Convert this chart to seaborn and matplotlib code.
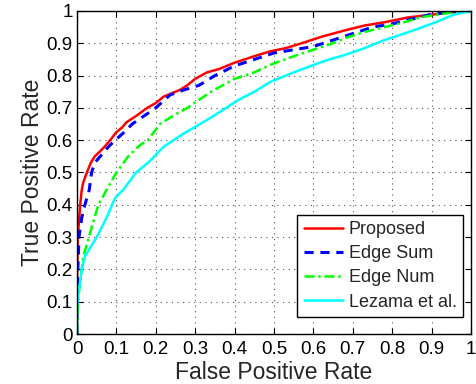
import matplotlib
matplotlib.use("Agg")
import matplotlib.pyplot as plt
import seaborn as sns
import numpy as np

# ---- data ----
proposed_fpr = [0, 0, 0.002, 0.008, 0.012, 0.016, 0.025, 0.035, 0.045, 0.058, 0.07, 0.084, 0.1,
                0.115, 0.125, 0.15, 0.178, 0.2, 0.22, 0.26, 0.28, 0.30, 0.33, 0.36, 0.40, 0.45,
                0.49, 0.53, 0.57, 0.62, 0.68, 0.73, 0.78, 0.84, 0.91, 0.96, 1.0]
proposed_tpr = [0, 0.15, 0.30, 0.40, 0.446, 0.47, 0.50, 0.53, 0.55, 0.565, 0.58, 0.60, 0.625,
                0.64, 0.655, 0.675, 0.70, 0.715, 0.735, 0.755, 0.77, 0.79, 0.81, 0.82, 0.84, 0.86,
                0.875, 0.885, 0.90, 0.92, 0.94, 0.955, 0.965, 0.98, 0.99, 0.997, 1.0]

edgesum_fpr = [0, 0, 0.002, 0.005, 0.012, 0.02, 0.031, 0.037, 0.045, 0.066, 0.08, 0.097, 0.12,
               0.14, 0.17, 0.2, 0.236, 0.27, 0.31, 0.35, 0.40, 0.45, 0.5, 0.55, 0.6, 0.65, 0.7,
               0.75, 0.8, 0.85, 0.9, 0.95, 1.0]
edgesum_tpr = [0, 0.12, 0.2, 0.3, 0.36, 0.40, 0.446, 0.50, 0.53, 0.56, 0.58, 0.60, 0.625,
               0.65, 0.675, 0.70, 0.74, 0.755, 0.77, 0.80, 0.83, 0.85, 0.87, 0.88, 0.89, 0.91,
               0.93, 0.95, 0.96, 0.975, 0.99, 0.997, 1.0]

edgenum_fpr = [0, 0.002, 0.004, 0.01, 0.016, 0.03, 0.054, 0.075, 0.1, 0.13, 0.16, 0.18, 0.21,
               0.25, 0.28, 0.34, 0.40, 0.45, 0.49, 0.55, 0.6, 0.65, 0.68, 0.73, 0.78, 0.83,
               0.87, 0.92, 0.96, 1.0]
edgenum_tpr = [0, 0.08, 0.12, 0.18, 0.24, 0.30, 0.40, 0.446, 0.50, 0.55, 0.585, 0.60, 0.65,
               0.68, 0.70, 0.75, 0.79, 0.81, 0.833, 0.86, 0.88, 0.90, 0.916, 0.935, 0.95,
               0.965, 0.98, 0.99, 0.997, 1.0]

lezama_fpr = [0, 0, 0.006, 0.012, 0.02, 0.05, 0.075, 0.096, 0.117, 0.15, 0.18, 0.22, 0.27,
              0.34, 0.41, 0.45, 0.49, 0.55, 0.6, 0.64, 0.68, 0.73, 0.78, 0.83, 0.87, 0.91,
              0.955, 1.0]
lezama_tpr = [0, 0.085, 0.146, 0.2, 0.24, 0.30, 0.36, 0.42, 0.446, 0.50, 0.53, 0.58, 0.62,
              0.67, 0.725, 0.75, 0.78, 0.81, 0.833, 0.85, 0.864, 0.885, 0.91, 0.93, 0.947,
              0.965, 0.988, 1.0]

labels = ["Proposed", "Edge Sum", "Edge Num", "Lezama et al."]
ticks = [0, 0.1, 0.2, 0.3, 0.4, 0.5, 0.6, 0.7, 0.8, 0.9, 1]
tick_labels = ["0", "0.1", "0.2", "0.3", "0.4", "0.5", "0.6", "0.7", "0.8", "0.9", "1"]

sns.set_style("white")
plt.rcParams["font.family"] = ["Liberation Sans", "DejaVu Sans"]

fig = plt.figure(figsize=(4.76, 3.84), dpi=100)
ax = fig.add_axes([0.1618, 0.1302, 0.8277, 0.8412])

series = [
    (proposed_fpr, proposed_tpr, "#ff0000", "-", 1.8),
    (edgesum_fpr, edgesum_tpr, "#0000ff", (0, (3, 2.2)), 2.2),
    (edgenum_fpr, edgenum_tpr, "#00ff00", (0, (4, 1.5, 1, 1.5)), 1.8),
    (lezama_fpr, lezama_tpr, "#00ffff", "-", 1.8),
]
for (xs, ys, c, ls, lw), lab in zip(series, labels):
    sns.lineplot(x=xs, y=ys, ax=ax, sort=False, estimator=None, color=c,
                 linestyle=ls, linewidth=lw, label=lab)

ax.set_xlim(0, 1)
ax.set_ylim(0, 1)
ax.set_xticks(ticks)
ax.set_yticks(ticks)
ax.set_xticklabels(tick_labels, fontsize=13.5)
ax.set_yticklabels(tick_labels, fontsize=13.5)
ax.tick_params(direction="in", length=4, width=0.8, top=True, right=True,
               bottom=True, left=True, pad=3, colors="black")
ax.tick_params(axis="x", pad=5)
ax.grid(True, linestyle=(0, (1, 4)), color="#555555", linewidth=0.8)
for s in ax.spines.values():
    s.set_visible(True)
    s.set_color("black")
    s.set_linewidth(1.0)
ax.set_xlabel("False Positive Rate", fontsize=16.5, labelpad=2)
ax.set_ylabel("True Positive Rate", fontsize=16.5, labelpad=2)

leg = ax.legend(loc="lower right", bbox_to_anchor=(0.98, 0.053), borderaxespad=0,
                fontsize=13, frameon=True, fancybox=False, handlelength=2.2,
                handletextpad=0.3, labelspacing=0.4, borderpad=0.35)
leg.get_frame().set_edgecolor("black")
leg.get_frame().set_linewidth(1.0)
leg.get_frame().set_alpha(1)

fig.savefig("out.png", dpi=100)
